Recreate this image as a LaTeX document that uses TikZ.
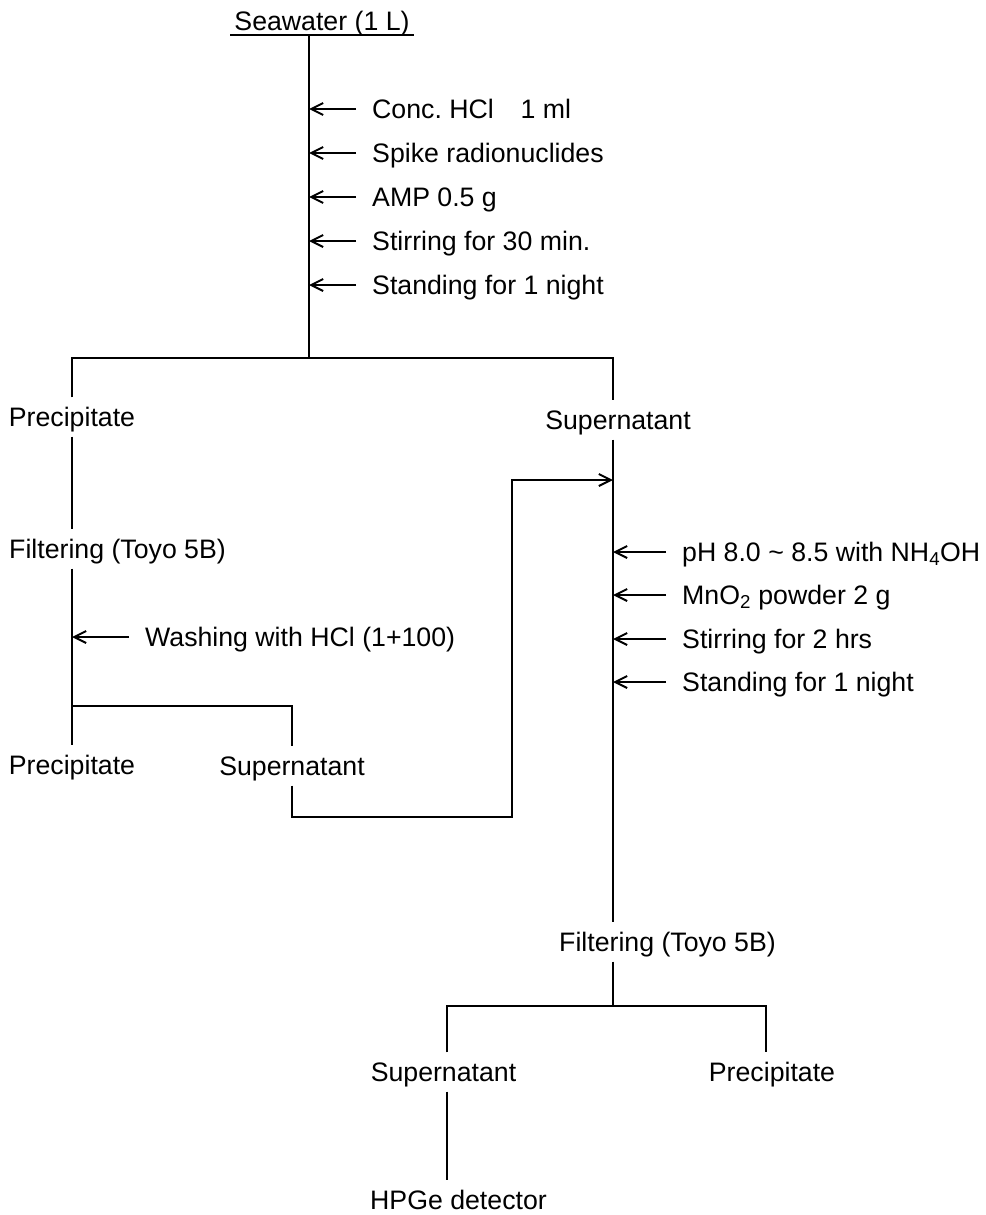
\documentclass[tikz,border=0pt]{standalone}
\usepackage{fontspec}
\setmainfont{Liberation Sans}
\usetikzlibrary{arrows.meta}

\begin{document}
\begin{tikzpicture}[x=1pt,y=-1pt]
\tikzstyle{txt} = [inner xsep=0pt, inner ysep=10pt, text height=19pt, text depth=0pt, font=\fontsize{26.7pt}{32pt}\selectfont]
\tikzstyle{add} = [txt, anchor=west, inner xsep=16pt]
\tikzstyle{line} = [line width=2pt]
\tikzstyle{feed} = [line, -{Straight Barb[length=12pt,width=12pt]}]
\useasboundingbox (0,0) rectangle (985,1215);

% sample and first additions
\node[txt, inner xsep=4pt, inner ysep=4pt] (sea) at (322,21.5) {Seawater (1 L)};
\draw[line] (sea.south west) -- (sea.south east);
\coordinate (t1) at (309,358);
\coordinate (t3) at (613,358);
\draw[line] (sea.south -| t1) -- (t1);
\node[add] (hcl) at (356,109) {Conc.\ HCl\quad 1 ml};
\node[add] (spike) at (356,153) {Spike radionuclides};
\node[add] (amp) at (356,197) {AMP 0.5 g};
\node[add] (stir1) at (356,241) {Stirring for 30 min.};
\node[add] (stand1) at (356,285) {Standing for 1 night};
\draw[feed] (hcl.west) -- (hcl.west -| t1);
\draw[feed] (spike.west) -- (spike.west -| t1);
\draw[feed] (amp.west) -- (amp.west -| t1);
\draw[feed] (stir1.west) -- (stir1.west -| t1);
\draw[feed] (stand1.west) -- (stand1.west -| t1);

% first separation
\node[txt] (prec1) at (72,417) {Precipitate};
\node[txt] (sup1) at (618,420) {Supernatant};
\draw[line] (prec1.north) |- (t3) -- (t3 |- sup1.north);

% precipitate branch
\node[txt, anchor=west] (filt1) at (9,549) {Filtering (Toyo 5B)};
\node[add] (wash) at (129,637) {Washing with HCl (1+100)};
\coordinate (t2) at (72,706);
\node[txt] (prec2) at (72,765) {Precipitate};
\node[txt] (sup2) at (292,766) {Supernatant};
\draw[line] (prec1.south) -- (prec1.south |- filt1.north);
\draw[line] (prec1.south |- filt1.south) -- (prec2.north);
\draw[line] (t2) -| (sup2.north);
\draw[feed] (wash.west) -- (wash.west -| t2);

% washings go back to the supernatant
\coordinate (loop) at (512,817);
\coordinate (inlet) at (613,480);
\draw[feed] (sup2.south) |- (loop) |- (inlet);

% supernatant branch
\node[add] (ph) at (666,552) {pH 8.0 \textasciitilde{} 8.5 with NH\textsubscript{4}OH};
\node[add] (mno) at (666,595) {MnO\textsubscript{2} powder 2 g};
\node[add] (stir2) at (666,639) {Stirring for 2 hrs};
\node[add] (stand2) at (666,682) {Standing for 1 night};
\draw[feed] (ph.west) -- (ph.west -| t3);
\draw[feed] (mno.west) -- (mno.west -| t3);
\draw[feed] (stir2.west) -- (stir2.west -| t3);
\draw[feed] (stand2.west) -- (stand2.west -| t3);
\node[txt] (filt2) at (667.5,942) {Filtering (Toyo 5B)};
\draw[line] (t3 |- sup1.south) -- (t3 |- filt2.north);

% second separation
\coordinate (t4) at (613,1006);
\coordinate (b1) at (447,1006);
\coordinate (b2) at (766,1006);
\node[txt] (sup3) at (443.5,1072) {Supernatant};
\node[txt] (prec3) at (772,1072) {Precipitate};
\node[txt] (hpge) at (458.5,1200) {HPGe detector};
\draw[line] (t3 |- filt2.south) -- (t4);
\draw[line] (b1 |- sup3.north) |- (b2) -- (b2 |- prec3.north);
\draw[line] (b1 |- sup3.south) -- (b1 |- hpge.north);
\end{tikzpicture}
\end{document}
